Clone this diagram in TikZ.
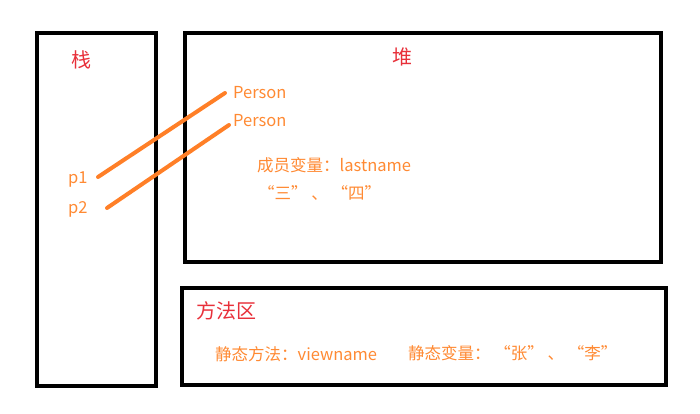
\documentclass[tikz,border=0pt]{standalone}
\usepackage{fontspec}
\setmainfont{Noto Sans CJK SC}
\begin{document}
\begin{tikzpicture}[x=1pt,y=-1pt,
  area/.style={draw=black,line width=3.5pt},
  title/.style={text=titlered,font=\fontsize{20}{24}\selectfont,inner sep=0pt},
  lbl/.style={text=lblorange,font=\fontsize{16.5}{20}\selectfont,inner sep=0pt},
  ref/.style={draw=lineorange,line width=4pt,line cap=round}]
\definecolor{titlered}{HTML}{E8303A}
\definecolor{lblorange}{HTML}{FF8A33}
\definecolor{lineorange}{HTML}{FF7F27}
\useasboundingbox (0,0) rectangle (700,414);
\fill[white] (0,0) rectangle (700,414);
% boxes
\draw[area] (37,33) rectangle (156,386);
\draw[area] (185,33) rectangle (661,262);
\draw[area] (182,288) rectangle (666,385);
% titles
\node[title] (zhan) at (81,60) {栈};
\node[title] (dui) at (402,57) {堆};
\node[title,anchor=west] (ff) at (196,311) {方法区};
% labels
\node[lbl,anchor=west] (per1) at (233,93) {Person};
\node[lbl,anchor=west] (per2) at (233,121) {Person};
\node[lbl,anchor=west] (p1) at (68,180) {p1};
\node[lbl,anchor=west] (p2) at (68,209) {p2};
\node[lbl,anchor=west] (cy) at (257,165) {成员变量：lastname};
\node[lbl,anchor=west] (sz) at (258,193) {“三” 、 “四”};
\node[lbl,anchor=west] (jtff) at (215,354) {静态方法：viewname};
\node[lbl,anchor=west] (jtbl) at (408,353) {静态变量： “张” 、 “李”};
% references
\coordinate (a1) at (98,177);
\coordinate (b1) at (225,93);
\coordinate (a2) at (107,208);
\coordinate (b2) at (229,125);
\draw[ref] (a1) -- (b1);
\draw[ref] (a2) -- (b2);
\end{tikzpicture}
\end{document}
